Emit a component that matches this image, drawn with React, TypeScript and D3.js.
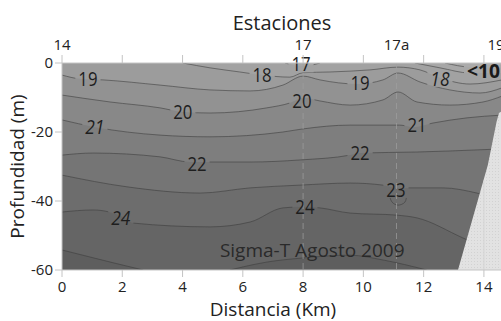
import React from "react";
import * as d3 from "d3";

type P = [number, number];

// Stations (top axis)
const stationNames = ["14", "17", "17a", "19"];
const stationKm = [0, 8, 11.1, 14.4];
const dashedStations = [8, 11.1];
const xTicks = [0, 2, 4, 6, 8, 10, 12, 14];
const yTicks = [0, -20, -40, -60];

// Isolines of Sigma-T (km, depth m)
const iso15: P[] = [[13.47, 0], [14.2, -0.6], [14.6, -0.6]];
const iso16: P[] = [[12.71, 0], [13.54, -1.2], [14.6, -1.4]];
const iso17: P[] = [[11.71, 0], [12.54, -1.4], [13.54, -2.9], [14.6, -2.9]];
const iso17b: P[] = [[7.4, 0], [8.0, -0.9], [8.56, 0]];
const iso18: P[] = [[4.01, 0], [4.91, -1.4], [5.9, -2.6], [6.64, -3.5], [7.56, -4.1], [8.0, -2.8], [8.89, -2.6], [10.22, -2.0], [11.15, -1.2], [11.88, -2.0], [12.54, -4.3], [13.54, -6.1], [14.6, -4.9]];
const iso19: P[] = [[0, -3.5], [0.6, -4.6], [1.36, -4.9], [3.25, -6.4], [4.91, -7.8], [6.24, -8.1], [7.33, -6.4], [8.0, -3.8], [8.56, -4.9], [9.79, -6.1], [10.65, -4.9], [11.15, -2.9], [11.88, -5.5], [12.87, -7.8], [13.87, -8.7], [14.6, -7.2]];
const iso20: P[] = [[0, -9.3], [1.6, -11.3], [3.25, -13.0], [4.01, -14.2], [4.91, -14.5], [6.8, -13.0], [7.56, -11.6], [8.0, -10.1], [8.56, -11.0], [9.56, -12.2], [10.65, -10.7], [11.15, -8.4], [11.78, -11.3], [12.87, -12.2], [13.97, -11.3], [14.6, -9.6]];
const iso21: P[] = [[0, -16.5], [1.1, -18.6], [3.25, -20.9], [4.91, -21.4], [7.33, -20.0], [8.0, -19.1], [9.56, -18.0], [11.21, -18.0], [11.65, -18.6], [12.31, -17.4], [13.44, -15.9], [14.6, -15.1]];
const iso22: P[] = [[0, -26.7], [1.03, -26.1], [3.25, -27.2], [4.25, -28.7], [6.24, -28.7], [7.9, -28.1], [9.56, -26.7], [9.89, -26.1], [11.78, -25.8], [12.87, -25.5], [14.6, -24.9]];
const iso23: P[] = [[0, -32.5], [2.16, -35.9], [4.58, -37.7], [6.24, -36.2], [7.9, -35.4], [9.56, -34.8], [10.65, -35.4], [11.11, -36.2], [12.64, -36.2], [13.77, -37.7], [14.6, -39.7]];
const iso23loop: P[] = [[10.88, -37.7], [10.95, -40.3], [11.15, -41.2], [11.38, -40.3], [11.41, -37.9], [11.15, -37.0]];
const iso24: P[] = [[0, -43.2], [1.03, -42.6], [2.09, -44.9], [2.36, -46.4], [4.91, -47.5], [6.24, -46.1], [7.33, -42.0], [8.0, -41.7], [8.56, -42.0], [9.56, -43.5], [11.11, -44.1], [11.78, -44.9], [13.3, -50.7], [14.2, -54.2]];
const iso25: P[] = [[0, -54.2], [1.6, -57.7], [2.69, -60]];
const iso25b: P[] = [[5.57, -60], [6.8, -57.7], [8.0, -56.5], [9.56, -55.7], [10.65, -57.1], [12.1, -60]];

// Bottom (land) profile near station 19
const bottomProfile: P[] = [[13.14, -60], [14.13, -29.6], [14.42, -17], [14.5, -14.5], [14.6, -14], [14.6, -60]];

// Contour labels: text, km, depth, italic
const labelText = ["19", "20", "21", "22", "24", "18", "17", "20", "19", "18", "21", "22", "23", "24"];
const labelKm = [0.86, 4.01, 1.09, 4.48, 1.95, 6.64, 7.93, 7.96, 9.89, 12.54, 11.78, 9.89, 11.08, 8.06];
const labelDepth = [-4.6, -14.1, -18.6, -29.3, -45.0, -3.5, -0.4, -11.0, -5.8, -4.6, -18.0, -26.1, -36.8, -41.7];
const labelItalic = [false, false, true, false, true, false, false, false, false, true, false, false, false, false];

const levels = [15, 16, 17, 18, 19, 20, 21, 22, 23, 24, 25];
const levelColors = ["#ababab", "#a7a7a7", "#a2a2a2", "#9c9c9c", "#929292", "#888888", "#7e7e7e", "#757575", "#6d6d6d", "#656565", "#5e5e5e"];
const backgroundColor = "#b0b0b0";

const W = 501;
const H = 321;
const x = d3.scaleLinear().domain([0, 14.6]).range([62, 502]);
const y = d3.scaleLinear().domain([0, -60]).range([63, 270]);

const colorOf = d3.scaleOrdinal<number, string>().domain(levels).range(levelColors);

const line = d3.line<P>().x((d) => x(d[0])).y((d) => y(d[1])).curve(d3.curveMonotoneX);
const loopLine = d3.line<P>().x((d) => x(d[0])).y((d) => y(d[1])).curve(d3.curveCatmullRomClosed);

type Iso = { level: number; kind: "top" | "edge" | "dip"; pts: P[] };
const isolines: Iso[] = [
  { level: 15, kind: "top", pts: iso15 },
  { level: 16, kind: "top", pts: iso16 },
  { level: 17, kind: "top", pts: iso17 },
  { level: 17, kind: "dip", pts: iso17b },
  { level: 18, kind: "top", pts: iso18 },
  { level: 19, kind: "edge", pts: iso19 },
  { level: 20, kind: "edge", pts: iso20 },
  { level: 21, kind: "edge", pts: iso21 },
  { level: 22, kind: "edge", pts: iso22 },
  { level: 23, kind: "edge", pts: iso23 },
  { level: 24, kind: "edge", pts: iso24 },
  { level: 25, kind: "edge", pts: iso25 },
  { level: 25, kind: "edge", pts: iso25b },
];

function fillPath(iso: Iso): string {
  const p = line(iso.pts) || "";
  const s = iso.pts[0];
  const e = iso.pts[iso.pts.length - 1];
  const yb = y(-60);
  if (iso.kind === "dip") return p + "Z";
  if (iso.kind === "top") {
    return `M${x(0)},${y(0)}` + p.replace(/^M/, "L") + `L${x(e[0])},${yb}L${x(0)},${yb}Z`;
  }
  return p + `L${x(e[0])},${yb}L${x(s[0])},${yb}Z`;
}

function fillColor(iso: Iso): string {
  if (iso.kind === "dip") return colorOf(iso.level - 1);
  return colorOf(iso.level);
}

const FONT = "'Open Sans', 'Noto Sans', sans-serif";
const LFS = 20;
const digitW = 9.6;

export default function App() {
  const labels = labelText.map((t, i) => ({
    t,
    cx: x(labelKm[i]),
    cy: y(labelDepth[i]),
    it: labelItalic[i],
    w: t.length * digitW,
  }));
  const lessX = x(14.6) - 2;
  const lessY = y(0) + 9;
  return (
    <svg width={W} height={H} style={{ display: "block", position: "absolute", left: 0, top: 0 }} fontFamily={FONT}>
      <defs>
        <clipPath id="plotClip">
          <rect x={x(0)} y={y(0)} width={x(14.6) - x(0)} height={y(-60) - y(0)} />
        </clipPath>
        <mask id="lblMask">
          <rect x={0} y={0} width={W} height={H} fill="white" />
          {labels.map((l, i) => (
            <rect key={i} x={l.cx - l.w / 2 - 3} y={l.cy - 8} width={l.w + 6} height={16} fill="black" />
          ))}
          <rect x={lessX - 36} y={lessY - 10} width={40} height={16} fill="black" />
        </mask>
        <pattern id="dots" width={3} height={3} patternUnits="userSpaceOnUse">
          <rect width={3} height={3} fill="#e2e2e2" />
          <rect width={1} height={1} fill="#d2d2d2" />
        </pattern>
      </defs>

      <g clipPath="url(#plotClip)">
        <rect x={x(0)} y={y(0)} width={x(14.6) - x(0)} height={y(-60) - y(0)} fill={backgroundColor} />
        {isolines.map((iso, i) => (
          <path key={i} d={fillPath(iso)} fill={fillColor(iso)} />
        ))}
        <g mask="url(#lblMask)" fill="none" stroke="#3c3c3c" strokeWidth={0.8} strokeOpacity={0.7}>
          {isolines.map((iso, i) => (
            <path key={i} d={line(iso.pts) || ""} />
          ))}
          <path d={loopLine(iso23loop) || ""} />
        </g>
        {dashedStations.map((k, i) => (
          <line key={i} x1={x(k)} x2={x(k)} y1={y(0)} y2={y(-60)} stroke="#a0a0a0" strokeOpacity={0.7} strokeWidth={1} strokeDasharray="6,4" />
        ))}
        <path d={(d3.line<P>().x((d) => x(d[0])).y((d) => y(d[1])))(bottomProfile) + "Z"} fill="url(#dots)" />
        <line x1={x(14)} x2={x(14)} y1={y(-34)} y2={y(-60)} stroke="#d4d4d4" strokeWidth={1} />
      </g>

      {/* contour labels */}
      {labels.map((l, i) => (
        <text key={i} x={l.cx} y={l.cy + 7} textAnchor="middle" fontSize={LFS} fill="#1e1e1e" fontStyle={l.it ? "italic" : "normal"} textLength={l.w} lengthAdjust="spacingAndGlyphs">
          {l.t}
        </text>
      ))}
      <text x={lessX} y={lessY + 6} textAnchor="end" fontSize={19} fontWeight="bold" fill="#1a1a1a" textLength={33} lengthAdjust="spacingAndGlyphs">
        {"<10"}
      </text>

      {/* annotation */}
      <text x={x(5.24)} y={y(-56.2)} fontSize={19} fill="#2a2a2a">Sigma-T Agosto 2009</text>

      {/* axes */}
      <g stroke="#c4c4c4" strokeWidth={1}>
        <line x1={x(0)} x2={x(14.6)} y1={y(0)} y2={y(0)} />
        <line x1={x(0)} x2={x(0)} y1={y(0)} y2={y(-60)} />
        <line x1={x(0)} x2={x(14.6)} y1={y(-60)} y2={y(-60)} />
        {xTicks.map((t) => (
          <line key={"tt" + t} x1={x(t)} x2={x(t)} y1={y(0) - 8} y2={y(0)} />
        ))}
        {xTicks.map((t) => (
          <line key={"bt" + t} x1={x(t)} x2={x(t)} y1={y(-60)} y2={y(-60) + 7} />
        ))}
        {yTicks.map((t) => (
          <line key={"lt" + t} x1={x(0) - 7} x2={x(0)} y1={y(t)} y2={y(t)} />
        ))}
      </g>
      <g fontSize={15} fill="#222">
        {xTicks.map((t) => (
          <text key={"bl" + t} x={x(t)} y={y(-60) + 22} textAnchor="middle">{t}</text>
        ))}
        {yTicks.map((t) => (
          <text key={"yl" + t} x={x(0) - 9} y={y(t) + 5} textAnchor="end">{t}</text>
        ))}
        {stationNames.map((s, i) => (
          <text key={"st" + s} x={x(stationKm[i])} y={50} textAnchor="middle">{s}</text>
        ))}
      </g>
      <text x={282} y={30} textAnchor="middle" fontSize={20} fill="#222">Estaciones</text>
      <text x={273} y={316} textAnchor="middle" fontSize={19} fill="#222">Distancia (Km)</text>
      <text transform={`translate(24,${(y(0) + y(-60)) / 2}) rotate(-90)`} textAnchor="middle" fontSize={19} fill="#222">Profundidad (m)</text>
    </svg>
  );
}
